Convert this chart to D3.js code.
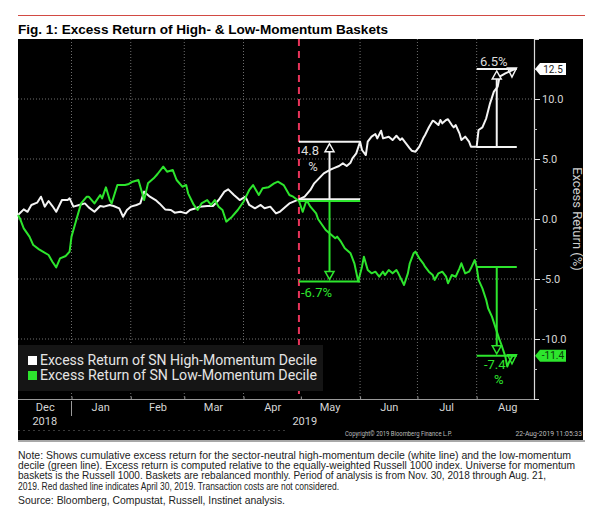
<!DOCTYPE html>
<html><head><meta charset="utf-8">
<script src="https://cdn.jsdelivr.net/npm/d3@7"></script>
<style>body{margin:0;background:#fff;} svg{display:block;}</style>
</head><body>
<svg id="c" width="600" height="524"></svg>
<script>
// ---------- DATA ----------
const highDates = ["2018-12-04","2018-12-07","2018-12-09","2018-12-11","2018-12-14","2018-12-16","2018-12-18","2018-12-20","2018-12-22","2018-12-24","2018-12-27","2018-12-30","2018-12-31",
"2019-01-02","2019-01-05","2019-01-08","2019-01-10","2019-01-13","2019-01-16","2019-01-18","2019-01-21","2019-01-23","2019-01-26","2019-01-28","2019-01-30",
"2019-02-01","2019-02-04","2019-02-06","2019-02-08","2019-02-11","2019-02-14","2019-02-16","2019-02-19","2019-02-22","2019-02-24","2019-02-27",
"2019-03-02","2019-03-04","2019-03-07","2019-03-09","2019-03-13","2019-03-16","2019-03-19","2019-03-22","2019-03-24","2019-03-27","2019-03-30",
"2019-04-02","2019-04-04","2019-04-07","2019-04-10","2019-04-12","2019-04-15","2019-04-18","2019-04-20","2019-04-23","2019-04-25","2019-04-30",
"2019-05-03","2019-05-06","2019-05-08","2019-05-10","2019-05-13","2019-05-16","2019-05-18","2019-05-21","2019-05-23","2019-05-25","2019-05-27","2019-05-28","2019-05-30",
"2019-06-01","2019-06-02","2019-06-04","2019-06-05","2019-06-07","2019-06-09","2019-06-10","2019-06-12","2019-06-13","2019-06-16","2019-06-18","2019-06-20","2019-06-22","2019-06-23","2019-06-25","2019-06-27","2019-06-28","2019-06-30",
"2019-07-02","2019-07-04","2019-07-05","2019-07-07","2019-07-09","2019-07-10","2019-07-12","2019-07-13","2019-07-14","2019-07-16","2019-07-17","2019-07-19","2019-07-20","2019-07-21","2019-07-23","2019-07-24","2019-07-26","2019-07-28","2019-07-29",
"2019-08-01","2019-08-02","2019-08-04","2019-08-06","2019-08-08","2019-08-10","2019-08-12","2019-08-13","2019-08-16","2019-08-18","2019-08-21"];
const highValues = [0.33,0.8,0.6,1.17,1.36,1.86,1.03,1.5,1.08,0.6,1.58,1.58,1.72,
1.03,1.17,1.3,0.97,0.6,1.08,1.03,1.17,1.08,0.89,0.19,0.75,
1.03,1.17,1.3,2.28,1.86,1.58,1.3,0.8,0.75,0.53,0.6,
0.47,0.75,0.89,1.03,1.08,1.08,1.58,2.28,2.47,2.0,1.58,
1.86,1.17,0.89,1.17,0.89,1.03,0.47,0.6,1.03,1.3,1.64,
1.86,2.42,2.97,3.3,3.8,4.08,4.22,4.42,4.64,4.42,4.69,5.06,5.47,
6.44,5.75,5.33,6.44,6.86,7.08,6.72,7.36,6.72,6.86,6.58,6.94,6.58,6.72,6.31,5.89,5.69,5.61,
6.03,6.72,7.0,7.64,8.19,8.11,7.83,8.25,7.97,8.25,8.31,7.83,7.64,7.83,7.14,6.58,6.86,6.44,6.03,
6.03,7.42,7.64,8.39,9.64,10.61,11.03,11.86,12.14,12.28,12.5];

const lowDates = ["2018-12-04","2018-12-05","2018-12-07","2018-12-10","2018-12-12","2018-12-15","2018-12-17","2018-12-20","2018-12-22","2018-12-24","2018-12-26","2018-12-29","2018-12-31",
"2019-01-01","2019-01-03","2019-01-06","2019-01-09","2019-01-10","2019-01-13","2019-01-16","2019-01-17","2019-01-19","2019-01-21","2019-01-22","2019-01-25","2019-01-29","2019-01-31",
"2019-02-02","2019-02-05","2019-02-07","2019-02-08","2019-02-10","2019-02-13","2019-02-15","2019-02-18","2019-02-20","2019-02-23","2019-02-25","2019-02-28",
"2019-03-02","2019-03-03","2019-03-06","2019-03-08","2019-03-10","2019-03-13","2019-03-15","2019-03-17","2019-03-19","2019-03-21","2019-03-23","2019-03-26","2019-03-29",
"2019-04-01","2019-04-04","2019-04-06","2019-04-09","2019-04-11","2019-04-14","2019-04-17","2019-04-19","2019-04-22","2019-04-25","2019-04-27","2019-04-30",
"2019-05-02","2019-05-04","2019-05-06","2019-05-09","2019-05-10","2019-05-14","2019-05-16","2019-05-19","2019-05-20","2019-05-22","2019-05-24","2019-05-27","2019-05-29","2019-05-31",
"2019-06-02","2019-06-03","2019-06-05","2019-06-07","2019-06-09","2019-06-11","2019-06-13","2019-06-14","2019-06-16","2019-06-18","2019-06-20","2019-06-21","2019-06-24","2019-06-26","2019-06-27","2019-06-29","2019-06-30",
"2019-07-02","2019-07-04","2019-07-05","2019-07-07","2019-07-09","2019-07-10","2019-07-12","2019-07-14","2019-07-16","2019-07-17","2019-07-19","2019-07-21","2019-07-23","2019-07-24","2019-07-26","2019-07-28","2019-07-29","2019-07-31",
"2019-08-01","2019-08-02","2019-08-04","2019-08-06","2019-08-07","2019-08-09","2019-08-11","2019-08-13","2019-08-14","2019-08-16","2019-08-17","2019-08-18","2019-08-20","2019-08-21"];
const lowValues = [0.33,0.05,-0.78,-1.47,-2.17,-2.53,-2.72,-3.0,-3.56,-4.03,-3.28,-3.08,-2.72,
-1.47,-0.36,1.3,1.86,1.86,1.3,2.0,1.72,2.64,1.58,1.3,2.83,2.83,2.92,
3.11,3.25,2.14,1.58,2.97,3.39,3.75,4.36,3.94,4.08,3.25,2.69,
2.83,2.14,1.17,0.75,1.3,1.58,1.17,1.58,1.03,0.75,-0.22,0.19,0.75,
1.44,2.42,2.83,2.0,2.56,2.64,2.97,3.11,2.83,2.0,1.86,1.5,
0.6,1.58,1.03,0.47,0.0,-0.92,-1.19,-1.61,-1.47,-1.89,-2.44,-2.86,-3.69,-5.2,
-3.97,-3.14,-4.25,-4.53,-4.39,-4.81,-4.39,-4.67,-4.25,-4.53,-4.25,-4.53,-5.5,-4.53,-3.69,-2.86,-2.72,
-3.28,-3.69,-3.97,-4.39,-4.67,-5.08,-4.53,-4.39,-4.81,-5.36,-4.67,-4.81,-4.11,-3.69,-4.53,-4.39,-4.11,-3.42,
-4.0,-5.08,-5.78,-6.75,-7.44,-8.14,-9.11,-10.08,-10.5,-11.47,-12.3,-11.9,-11.33,-11.4];

const monthStarts = ["2019-01-01","2019-02-01","2019-03-01","2019-04-01","2019-06-01","2019-07-01","2019-08-01"];
const monthLabels = ["Dec","Jan","Feb","Mar","Apr","May","Jun","Jul","Aug"];
const monthMids = ["2018-12-18","2019-01-16","2019-02-15","2019-03-16","2019-04-16","2019-05-16","2019-06-16","2019-07-16","2019-08-17"];
const yearLabels = ["2018","2019"];
const yMajorTicks = [-10,-5,0,5,10];
const yMinorTicks = [-12.5,-7.5,-2.5,2.5,7.5,12.5];
const markerDate = "2019-04-30";
const lastValues = [12.5,-11.4];
const legendLabels = ["Excess Return of SN High-Momentum Decile","Excess Return of SN Low-Momentum Decile"];

// measurement annotations
const measStart = ["2019-04-30","2019-04-30","2019-08-01","2019-08-01"];
const measEnd   = ["2019-06-01","2019-06-01","2019-08-22","2019-08-22"];
const measFrom  = [1.64, 1.5, 6.0, -4.0];
const measTo    = [6.44, -5.2, 12.5, -11.4];
const measText  = ["4.8 %","-6.7%","6.5%","-7.4 %"];

const noteLines = [
"Note: Shows cumulative excess return for the sector-neutral high-momentum decile (white line) and the low-momentum",
"decile (green line). Excess return is computed relative to the equally-weighted Russell 1000 index. Universe for momentum",
"baskets is the Russell 1000. Baskets are rebalanced monthly. Period of analysis is from Nov. 30, 2018 through Aug. 21,",
"2019. Red dashed line indicates April 30, 2019. Transaction costs are not considered."];
const sourceLine = "Source: Bloomberg, Compustat, Russell, Instinet analysis.";

// ---------- CHART ----------
const svg = d3.select("#c");
const parse = d3.timeParse("%Y-%m-%d");
const L = 18, R = 534, T = 39, B = 399;
const x = d3.scaleTime().domain([parse("2018-12-04"), parse("2019-08-31")]).range([L, R]);
const y = d3.scaleLinear().domain([-15, 15]).range([B, T]);
const BB = "Roboto, 'DejaVu Sans', sans-serif";
const WHITE = "#f4f4f4", GREEN = "#2de52d";

// header
svg.append("line").attr("x1",18).attr("x2",585).attr("y1",15.5).attr("y2",15.5).attr("stroke","#d24a43").attr("stroke-width",1);
svg.append("text").attr("x",18).attr("y",34).text("Fig. 1: Excess Return of High- & Low-Momentum Baskets")
  .attr("font-family","'Liberation Sans', Arial, sans-serif").attr("font-weight","bold").attr("font-size",13.5).attr("fill","#000")
  .attr("textLength",370).attr("lengthAdjust","spacingAndGlyphs");

// panel
svg.append("rect").attr("x",18).attr("y",39).attr("width",565).attr("height",401).attr("fill","#000");
svg.append("rect").attr("x",18).attr("y",440).attr("width",567).attr("height",2).attr("fill","#a8a8a8");

// grid
const grid = svg.append("g").attr("stroke","#6e6e6e").attr("stroke-dasharray","1,2").attr("stroke-width",1);
grid.selectAll("line.v").data(monthStarts.map(parse)).join("line")
  .attr("x1",d=>x(d)).attr("x2",d=>x(d)).attr("y1",T).attr("y2",B);
grid.selectAll("line.h").data(yMajorTicks).join("line").attr("class","h")
  .attr("x1",L).attr("x2",R).attr("y1",d=>y(d)).attr("y2",d=>y(d));

// bottom axis
svg.append("line").attr("x1",L).attr("x2",R).attr("y1",B+0.5).attr("y2",B+0.5).attr("stroke","#9a9a9a");
const xTicks = d3.axisBottom(x).tickValues(monthStarts.concat(["2019-05-01"]).map(parse)).tickSize(-3).tickFormat("");
const gxt = svg.append("g").attr("transform",`translate(0,${B+0.5})`).call(xTicks);
gxt.select(".domain").remove();
gxt.selectAll(".tick line").attr("stroke","#9a9a9a");
const xLab = d3.axisBottom(x).tickValues(monthMids.map(parse)).tickSize(0).tickPadding(0)
  .tickFormat((d,i)=>monthLabels[i]);
const gxl = svg.append("g").attr("transform",`translate(0,${B+2})`).call(xLab);
gxl.select(".domain").remove();
gxl.selectAll("text").attr("font-family",BB).attr("font-size",11).attr("fill","#d6d6d6").attr("dy","0.95em");
svg.append("line").attr("x1",x(parse("2019-01-01"))).attr("x2",x(parse("2019-01-01"))).attr("y1",B+2).attr("y2",B+17).attr("stroke","#9a9a9a");
svg.append("text").attr("x",(L+x(parse("2019-01-01")))/2).attr("y",425).attr("text-anchor","middle").text(yearLabels[0])
  .attr("font-family",BB).attr("font-size",11).attr("fill","#d6d6d6");
svg.append("text").attr("x",(x(parse("2019-01-01"))+R)/2+2).attr("y",425).attr("text-anchor","middle").text(yearLabels[1])
  .attr("font-family",BB).attr("font-size",11).attr("fill","#d6d6d6");
svg.append("line").attr("x1",L).attr("x2",285).attr("y1",430.5).attr("y2",430.5).attr("stroke","#3a3a3a").attr("stroke-dasharray","2,3");
svg.append("text").attr("x",345).attr("y",436).text("Copyright\u00A9 2019 Bloomberg Finance L.P.")
  .attr("font-family",BB).attr("font-size",6.5).attr("fill","#bdbdbd").attr("textLength",107).attr("lengthAdjust","spacingAndGlyphs");
svg.append("text").attr("x",582).attr("y",436).attr("text-anchor","end").text("22-Aug-2019 11:05:33")
  .attr("font-family",BB).attr("font-size",6.8).attr("fill","#bdbdbd");

// right axis
const yAx = d3.axisRight(y).tickValues(yMajorTicks).tickSize(6).tickSizeOuter(5).tickPadding(2).tickFormat(d=>d.toFixed(1));
const gy = svg.append("g").attr("transform",`translate(${R},0)`).call(yAx);
gy.select(".domain").attr("stroke","#dcdcdc").attr("stroke-width",1.2);
gy.selectAll(".tick line").attr("stroke","#dcdcdc");
gy.selectAll("text").attr("font-family",BB).attr("font-size",11).attr("fill","#d6d6d6");
const yMin = d3.axisRight(y).tickValues(yMinorTicks).tickSize(3).tickFormat("");
const gym = svg.append("g").attr("transform",`translate(${R},0)`).call(yMin);
gym.select(".domain").remove();
gym.selectAll(".tick line").attr("stroke","#bbb");
svg.append("text").attr("transform",`translate(576,${y(0)}) rotate(90)`).attr("text-anchor","middle")
  .attr("dominant-baseline","middle").text("Excess Return (%)")
  .attr("font-family",BB).attr("font-size",13).attr("fill","#cfcfcf");

// red dashed marker
svg.append("line").attr("x1",x(parse(markerDate))).attr("x2",x(parse(markerDate))).attr("y1",T).attr("y2",B)
  .attr("stroke","#e8345a").attr("stroke-width",2).attr("stroke-dasharray","7,5");

// series
const line = d3.line().x(d=>x(d.date)).y(d=>y(d.value));
const high = highDates.map((d,i)=>({date:parse(d), value:highValues[i]}));
const low = lowDates.map((d,i)=>({date:parse(d), value:lowValues[i]}));
svg.append("path").datum(high).attr("d",line).attr("fill","none").attr("stroke",WHITE).attr("stroke-width",2).attr("stroke-linejoin","round");
svg.append("path").datum(low).attr("d",line).attr("fill","none").attr("stroke",GREEN).attr("stroke-width",2).attr("stroke-linejoin","round");

// measurements
const measColor = [WHITE, GREEN, WHITE, GREEN];
const ann = svg.append("g");
measStart.forEach((s,i)=>{
  const x0 = x(parse(s)), x1 = x(parse(measEnd[i])), xm = (x0+x1)/2;
  const y0 = y(measFrom[i]), y1 = y(measTo[i]), c = measColor[i];
  const up = measTo[i] > measFrom[i];
  ann.append("line").attr("x1",x0).attr("x2",x1).attr("y1",y0).attr("y2",y0).attr("stroke",c).attr("stroke-width",2);
  ann.append("line").attr("x1",x0).attr("x2",x1).attr("y1",y1).attr("y2",y1).attr("stroke",c).attr("stroke-width",2);
  const tip = up ? y1+2 : y1-2, base = up ? y1+10 : y1-10;
  ann.append("line").attr("x1",xm).attr("x2",xm).attr("y1",y0).attr("y2",base).attr("stroke",c).attr("stroke-width",2);
  ann.append("path").attr("d",`M${xm},${tip}L${xm-4.5},${base}L${xm+4.5},${base}Z`).attr("fill","#000").attr("stroke",c).attr("stroke-width",1.5);
});
// end markers
[[0,12.5,WHITE,-1],[1,-11.4,GREEN,-1]].forEach(([k,v,c,o])=>{
  const xe = x(parse("2019-08-20"))-1, yt = y(v)+o;
  ann.append("path").attr("d",`M${xe-4.5},${yt}L${xe+4.5},${yt}L${xe},${yt+9}Z`).attr("fill","none").attr("stroke",c).attr("stroke-width",1.5);
});
// measurement labels
const AF = {"font-family":BB, "font-size":13};
function lab(t, xx, yy, c, anchor){
  const e = ann.append("text").attr("x",xx).attr("y",yy).text(t).attr("fill",c).attr("text-anchor",anchor||"start");
  Object.entries(AF).forEach(([k,v])=>e.attr(k,v));
}
{
  const xs = x(parse(measStart[0]));
  const p = measText[0].split(" ");
  lab(p[0], xs+2, y(measTo[0])+13, "#dcdcdc");
  lab(p[1], xs+14, y(measTo[0])+29, "#dcdcdc", "middle");
  lab(measText[1], xs+2, y(measTo[1])+16, GREEN);
  const xs2 = x(parse(measStart[2])), xm2 = (xs2 + x(parse(measEnd[2])))/2;
  lab(measText[2], xm2-3, y(measTo[2])-3, "#dcdcdc", "middle");
  const q = measText[3].split(" ");
  lab(q[0], xm2-2, y(measTo[3])+13, GREEN, "middle");
  lab(q[1], xm2+2, y(measTo[3])+28, GREEN, "middle");
}

// last value tags
const tagCol = [["#ffffff","#222"],[GREEN,"#0a3a0a"]];
lastValues.forEach((v,i)=>{
  const yc = y(v);
  svg.append("path").attr("d",`M${R+1},${yc}L${R+6},${yc-6}L${R+32},${yc-6}L${R+32},${yc+6}L${R+6},${yc+6}Z`).attr("fill",tagCol[i][0]);
  svg.append("text").attr("x",R+19).attr("y",yc).attr("dy","0.35em").attr("text-anchor","middle").text(v.toFixed(1))
    .attr("font-family",BB).attr("font-size",10).attr("fill",tagCol[i][1]);
});

// legend
svg.append("rect").attr("x",18).attr("y",345).attr("width",305).attr("height",46).attr("fill","#151515");
const legCol = ["#ffffff", GREEN];
legendLabels.forEach((t,i)=>{
  svg.append("rect").attr("x",28).attr("y",356+i*15).attr("width",9).attr("height",9).attr("fill",legCol[i]);
  svg.append("text").attr("x",40).attr("y",365+i*15).text(t).attr("font-family",BB).attr("font-size",14)
    .attr("fill","#e4e4e4").attr("textLength",277).attr("lengthAdjust","spacingAndGlyphs");
});

// notes
const noteW = [553,557,528,321];
noteLines.forEach((t,i)=>{
  svg.append("text").attr("x",18).attr("y",458.5+i*10.4).text(t)
    .attr("font-family","'Liberation Sans', Arial, sans-serif").attr("font-size",10.3).attr("fill","#222")
    .attr("textLength",noteW[i]).attr("lengthAdjust","spacingAndGlyphs");
});
svg.append("text").attr("x",18).attr("y",504).text(sourceLine)
  .attr("font-family","'Liberation Sans', Arial, sans-serif").attr("font-size",10.3).attr("fill","#222")
  .attr("textLength",267).attr("lengthAdjust","spacingAndGlyphs");
</script>
</body></html>
